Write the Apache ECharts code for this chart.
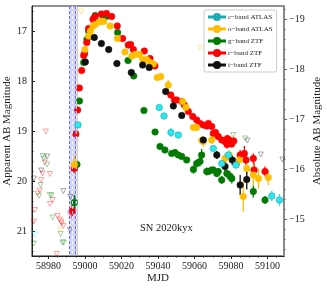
<!DOCTYPE html>
<html><head><meta charset="utf-8">
<script src="https://cdn.jsdelivr.net/npm/echarts@6/dist/echarts.min.js"></script>
<style>html,body{margin:0;padding:0;background:#fff}#c{width:327px;height:289px}</style>
</head><body><div id="c"></div>
<script>
// ---- tick labels ----
const xTicks = [58980, 59000, 59020, 59040, 59060, 59080, 59100];
const appTicks = [17, 18, 19, 20, 21];
const absTicks = [-19, -18, -17, -16, -15];
const distMod = 35.76;

// ---- detections: c-band ATLAS ----
const cMjd = [58996.2, 59040.7, 59043.3, 59047.1, 59051.1, 59070.3, 59074.9, 59078.5, 59082.7, 59102.3, 59106.5];
const cMag = [18.88, 18.53, 18.70, 19.03, 19.08, 19.35, 19.65, 19.48, 19.68, 20.30, 20.38];
const cErr = [0.04, 0.03, 0.04, 0.09, 0.05, 0.05, 0.06, 0.06, 0.07, 0.10, 0.12];

// ---- o-band ATLAS ----
const oMjd = [58994.2, 59000.0, 59002.0, 59003.0, 59004.4, 59005.6, 59007.8, 59009.2, 59010.2, 59013.8, 59017.8, 59021.9, 59025.7, 59027.5, 59029.8, 59031.6, 59033.8, 59035.6, 59037.4, 59039.6, 59041.5, 59045.6, 59053.5, 59055.3, 59059.4, 59061.2, 59064.0, 59064.8, 59069.4, 59076.7, 59079.0, 59084.5, 59086.7, 59088.6, 59092.2, 59095.0, 59100.4];
const oMag = [19.67, 17.37, 17.10, 17.00, 16.90, 16.87, 16.82, 16.81, 16.81, 16.90, 17.15, 17.42, 17.50, 17.47, 17.47, 17.57, 17.57, 17.63, 17.66, 17.93, 17.91, 18.08, 18.41, 18.53, 18.93, 18.93, 19.19, 19.21, 19.18, 19.55, 19.48, 19.58, 20.31, 19.75, 19.88, 19.95, 19.93];
const oErr = [0.18, 0.02, 0.02, 0.02, 0.02, 0.02, 0.02, 0.02, 0.02, 0.02, 0.02, 0.02, 0.02, 0.02, 0.02, 0.02, 0.02, 0.02, 0.02, 0.03, 0.03, 0.10, 0.03, 0.03, 0.06, 0.06, 0.08, 0.10, 0.08, 0.10, 0.10, 0.12, 0.30, 0.20, 0.20, 0.20, 0.15];

// ---- g-band ZTF ----
const gMjd = [58994.2, 58995.6, 58997.0, 58999.3, 59001.1, 59002.0, 59004.8, 59005.6, 59010.2, 59011.7, 59017.9, 59023.6, 59026.7, 59032.3, 59038.4, 59041.1, 59043.8, 59047.5, 59049.3, 59051.1, 59053.0, 59055.7, 59059.4, 59061.2, 59063.0, 59063.9, 59066.7, 59067.6, 59069.4, 59070.3, 59072.2, 59073.0, 59074.9, 59077.7, 59079.5, 59080.4, 59092.2, 59098.6];
const gMag = [20.43, 19.67, 18.40, 17.63, 17.17, 17.00, 16.75, 16.69, 16.73, 16.71, 17.03, 17.59, 17.90, 18.59, 19.02, 19.31, 19.38, 19.45, 19.43, 19.48, 19.51, 19.58, 19.77, 19.65, 19.61, 19.48, 19.81, 19.81, 19.78, 19.78, 19.85, 19.81, 19.98, 19.85, 19.91, 19.95, 20.21, 20.38];
const gErr = [0.15, 0.05, 0.03, 0.02, 0.02, 0.02, 0.02, 0.02, 0.02, 0.02, 0.02, 0.02, 0.02, 0.03, 0.03, 0.03, 0.03, 0.04, 0.04, 0.04, 0.04, 0.05, 0.08, 0.08, 0.10, 0.12, 0.08, 0.06, 0.06, 0.06, 0.07, 0.07, 0.08, 0.08, 0.10, 0.10, 0.12, 0.08];

// ---- r-band ZTF ----
const rMjd = [58993.0, 58994.2, 58995.0, 58996.0, 58996.9, 58998.2, 58999.3, 58999.8, 59001.0, 59002.0, 59004.4, 59005.6, 59009.0, 59011.8, 59014.6, 59017.7, 59020.6, 59023.7, 59025.0, 59026.5, 59032.5, 59035.6, 59038.3, 59047.0, 59049.0, 59050.2, 59053.0, 59054.4, 59056.6, 59059.0, 59061.2, 59063.0, 59064.8, 59066.7, 59067.6, 59069.4, 59070.3, 59071.5, 59073.0, 59074.9, 59076.7, 59077.8, 59078.0, 59079.0, 59080.4, 59081.5, 59085.0, 59087.3, 59088.2, 59092.2, 59092.6, 59098.6];
const rMag = [20.60, 19.76, 19.06, 18.58, 18.14, 17.79, 17.49, 17.45, 17.23, 16.95, 16.77, 16.71, 16.66, 16.65, 16.71, 16.90, 17.15, 17.28, 17.27, 17.37, 17.40, 17.55, 17.70, 18.28, 18.38, 18.38, 18.41, 18.48, 18.61, 18.71, 18.78, 18.85, 18.88, 18.90, 18.85, 18.91, 19.05, 19.03, 19.11, 19.18, 19.21, 19.27, 19.15, 19.18, 19.26, 19.20, 19.48, 19.45, 19.58, 19.55, 19.78, 19.81];
const rErr = [0.15, 0.08, 0.04, 0.03, 0.03, 0.03, 0.02, 0.02, 0.02, 0.02, 0.02, 0.02, 0.02, 0.02, 0.02, 0.02, 0.02, 0.02, 0.02, 0.02, 0.02, 0.02, 0.02, 0.03, 0.03, 0.03, 0.03, 0.03, 0.03, 0.03, 0.04, 0.04, 0.04, 0.04, 0.05, 0.05, 0.05, 0.05, 0.05, 0.06, 0.06, 0.08, 0.06, 0.06, 0.07, 0.07, 0.10, 0.15, 0.10, 0.10, 0.15, 0.10];

// ---- i-band ZTF ----
const iMjd = [59000.2, 59005.1, 59009.0, 59013.0, 59017.5, 59025.4, 59031.6, 59035.2, 59044.2, 59048.4, 59053.0, 59064.8, 59072.2, 59076.7, 59080.7, 59085.0, 59088.6];
const iMag = [17.62, 17.13, 17.25, 17.37, 17.65, 17.83, 17.68, 17.73, 18.21, 18.50, 18.69, 19.18, 19.48, 19.71, 19.58, 20.08, 19.97];
const iErr = [0.02, 0.02, 0.02, 0.02, 0.02, 0.02, 0.02, 0.03, 0.04, 0.04, 0.05, 0.06, 0.08, 0.10, 0.10, 0.20, 0.20];

// ---- upper limits ----
const rLimMjd = [58978.6, 58978.0, 58976.8, 58980.8, 58976.0, 58975.3, 58974.0, 58982.3, 58980.8, 58972.6, 58985.0, 58986.0, 58986.9, 58987.2, 58988.2, 58972.0, 58984.5, 58991.8];
const rLimMag = [19.01, 19.63, 19.85, 19.86, 19.98, 20.19, 20.25, 20.38, 20.46, 20.58, 20.70, 20.77, 20.81, 20.85, 20.90, 20.81, 21.46, 20.66];
const gLimMjd = [58976.8, 58977.5, 58979.3, 58975.7, 58974.8, 58980.8, 58981.8, 58982.3, 58986.7, 58987.7, 58988.4, 58972.0, 59081.2, 59087.7];
const gLimMag = [19.50, 19.55, 19.67, 20.08, 20.30, 20.28, 20.29, 20.73, 21.06, 21.23, 21.23, 21.25, 19.08, 19.15];
const iLimMjd = [58979.3, 58976.0, 58972.0, 58988.2, 58992.0, 58991.8, 59089.0, 59096.3, 59108.1];
const iLimMag = [19.51, 19.79, 19.95, 20.20, 20.32, 20.98, 19.19, 19.47, 19.57];
const oLimMjd = [58986.3, 58998.0, 59063.0];
const oLimMag = [20.98, 16.61, 17.33];
const cLimMjd = [58972.6];
const cLimMag = [21.07];

// ---- explosion epoch band ----
const bandBlue = [58991.5, 58994.5];
const bandGrey = [58994.5, 58996.2];

const FONT = 'Liberation Serif';
const col = {c: '#2ee6ee', o: '#ffbf00', g: '#007a00', r: '#ff0000', i: '#111111'};
const names = {c: 'c\u2212band ATLAS', o: 'o\u2212band ATLAS', g: 'g\u2212band ZTF', r: 'r\u2212band ZTF', i: 'i\u2212band ZTF'};

function pts(a, b) { return a.map((v, k) => [v, b[k]]); }
function pts3(a, b, e) { return a.map((v, k) => [v, b[k], e[k]]); }
function range(a, b, s) { const o = []; for (let k = 0; k <= Math.round((b - a) / s); k++) o.push(+(a + k * s).toFixed(3)); return o; }

function errSeries(key, m, y, e) {
  return {
    type: 'custom', xAxisIndex: 0, yAxisIndex: 0, silent: true, z: 2,
    data: pts3(m, y, e),
    renderItem: function (params, api) {
      const x = api.value(0), v = api.value(1), er = api.value(2);
      const p1 = api.coord([x, v - er]), p2 = api.coord([x, v + er]);
      return {type: 'line', shape: {x1: p1[0], y1: p1[1], x2: p2[0], y2: p2[1]},
        style: {stroke: col[key], lineWidth: 1.3}};
    }
  };
}
function detSeries(key, m, y, z) {
  return {
    name: names[key], type: 'scatter', xAxisIndex: 0, yAxisIndex: 0, z: z,
    symbol: 'circle', symbolSize: 6.5, data: pts(m, y),
    itemStyle: {color: col[key], borderColor: key === 'c' ? '#19a9b0' : col[key], borderWidth: 0.6, opacity: 1}
  };
}
function limSeries(key, m, y) {
  return {
    type: 'scatter', xAxisIndex: 0, yAxisIndex: 0, z: 1, silent: true,
    symbol: 'triangle', symbolRotate: 180, symbolSize: 5, data: pts(m, y),
    itemStyle: {color: 'rgba(255,255,255,0)', borderColor: col[key], borderWidth: 0.9, opacity: 0.4}
  };
}

const chart = echarts.init(document.getElementById('c'), null, {renderer: 'canvas'});
const grid = {left: 32, right: 43, top: 6, bottom: 33, outerBoundsMode: 'none', containLabel: false,
  show: true, borderColor: '#222', borderWidth: 1, backgroundColor: 'transparent'};
const lab = {fontFamily: FONT, fontSize: 10, color: '#222'};

chart.setOption({
  animation: false,
  grid: grid,
  xAxis: [
    {type: 'value', min: 58971, max: 59109, position: 'bottom',
      name: 'MJD', nameLocation: 'middle', nameGap: 17, nameMoveOverlap: false,
      nameTextStyle: {fontFamily: FONT, fontSize: 11, color: '#222'},
      axisLine: {show: true, onZero: false, lineStyle: {color: '#222'}},
      axisTick: {show: true, inside: false, length: 3, customValues: xTicks, lineStyle: {color: '#222'}},
      axisLabel: Object.assign({customValues: xTicks, margin: 5, formatter: v => String(Math.round(v))}, lab),
      splitLine: {show: false}},
    {type: 'value', min: 58971, max: 59109, position: 'bottom',
      axisLine: {show: false}, axisLabel: {show: false}, splitLine: {show: false},
      axisTick: {show: true, inside: false, length: 1.5, customValues: range(58975, 59105, 5), lineStyle: {color: '#222'}}}
  ],
  yAxis: [
    {type: 'value', min: 16.5, max: 21.5, inverse: true, position: 'left',
      name: 'Apparent AB Magnitude', nameLocation: 'middle', nameGap: 19, nameRotate: 90, nameMoveOverlap: false,
      nameTextStyle: {fontFamily: FONT, fontSize: 11, color: '#222'},
      axisLine: {show: true, onZero: false, lineStyle: {color: '#222'}},
      axisTick: {show: true, inside: true, length: 3, customValues: appTicks, lineStyle: {color: '#222'}},
      axisLabel: Object.assign({customValues: appTicks, margin: 5, formatter: v => String(Math.round(v))}, lab),
      splitLine: {show: false}},
    {type: 'value', min: 16.5, max: 21.5, inverse: true, position: 'left',
      axisLine: {show: false}, axisLabel: {show: false}, splitLine: {show: false},
      axisTick: {show: true, inside: true, length: 1.5, customValues: range(16.6, 21.4, 0.2), lineStyle: {color: '#222'}}},
    {type: 'value', min: 16.5 - distMod, max: 21.5 - distMod, inverse: true, position: 'right',
      name: 'Absolute AB Magnitude', nameLocation: 'middle', nameGap: 28, nameRotate: 90, nameMoveOverlap: false,
      nameTextStyle: {fontFamily: FONT, fontSize: 11, color: '#222'},
      axisLine: {show: true, onZero: false, lineStyle: {color: '#8a8a8a', width: 2}},
      axisTick: {show: true, inside: false, length: 3, customValues: absTicks, lineStyle: {color: '#666'}},
      axisLabel: Object.assign({customValues: absTicks, margin: 5, formatter: v => (v < 0 ? '\u2212' : '') + Math.abs(Math.round(v))}, lab),
      splitLine: {show: false}},
    {type: 'value', min: 16.5 - distMod, max: 21.5 - distMod, inverse: true, position: 'right',
      axisLine: {show: false}, axisLabel: {show: false}, splitLine: {show: false},
      axisTick: {show: true, inside: false, length: 1.5, customValues: range(-19.2, -14.4, 0.2), lineStyle: {color: '#666'}}}
  ],
  legend: {
    data: ['c', 'o', 'g', 'r', 'i'].map(k => ({name: names[k], icon: 'path://M0,2.6H16V3.4H0Z M5,3A3,3 0 1,0 11,3A3,3 0 1,0 5,3Z'})),
    orient: 'vertical', left: 204, top: 10, itemWidth: 16, itemHeight: 6, itemGap: 4,
    padding: [3, 4, 3, 4], backgroundColor: '#fff', borderColor: '#ccc', borderWidth: 1, borderRadius: 2,
    textStyle: {fontFamily: FONT, fontSize: 7, color: '#222', padding: [0, 0, 0, -2]},
    selectedMode: false
  },
  graphic: [{type: 'text', left: 140, top: 223, style: {text: 'SN 2020kyx', font: '10.5px "' + FONT + '"', fill: '#222'}}],
  series: [
    {type: 'scatter', xAxisIndex: 0, yAxisIndex: 0, data: [], silent: true, z: 0,
      markArea: {silent: true, itemStyle: {color: 'rgba(140,140,255,0.38)'}, data: [[{xAxis: bandBlue[0]}, {xAxis: bandBlue[1]}]]},
      markLine: {silent: true, symbol: 'none', label: {show: false},
        lineStyle: {type: [3, 2], color: '#6a6aff', width: 1},
        data: [{xAxis: bandBlue[0]}, {xAxis: bandBlue[1]}]}},
    {type: 'scatter', xAxisIndex: 0, yAxisIndex: 0, data: [], silent: true, z: 0,
      markArea: {silent: true, itemStyle: {color: 'rgba(150,150,150,0.45)'}, data: [[{xAxis: bandGrey[0]}, {xAxis: bandGrey[1]}]]},
      markLine: {silent: true, symbol: 'none', label: {show: false},
        lineStyle: {type: [3, 2], color: '#ffffff', width: 1, opacity: 0.8},
        data: [{xAxis: (bandGrey[0] + bandGrey[1]) / 2}, {xAxis: (bandBlue[0] + bandBlue[1]) / 2}]}},
    limSeries('r', rLimMjd, rLimMag),
    limSeries('g', gLimMjd, gLimMag),
    limSeries('i', iLimMjd, iLimMag),
    limSeries('o', oLimMjd, oLimMag),
    limSeries('c', cLimMjd, cLimMag),
    errSeries('g', gMjd, gMag, gErr),
    errSeries('r', rMjd, rMag, rErr),
    errSeries('o', oMjd, oMag, oErr),
    errSeries('i', iMjd, iMag, iErr),
    errSeries('c', cMjd, cMag, cErr),
    detSeries('c', cMjd, cMag, 7),
    detSeries('o', oMjd, oMag, 5),
    detSeries('g', gMjd, gMag, 3),
    detSeries('r', rMjd, rMag, 4),
    detSeries('i', iMjd, iMag, 6)
  ]
});
</script></body></html>
